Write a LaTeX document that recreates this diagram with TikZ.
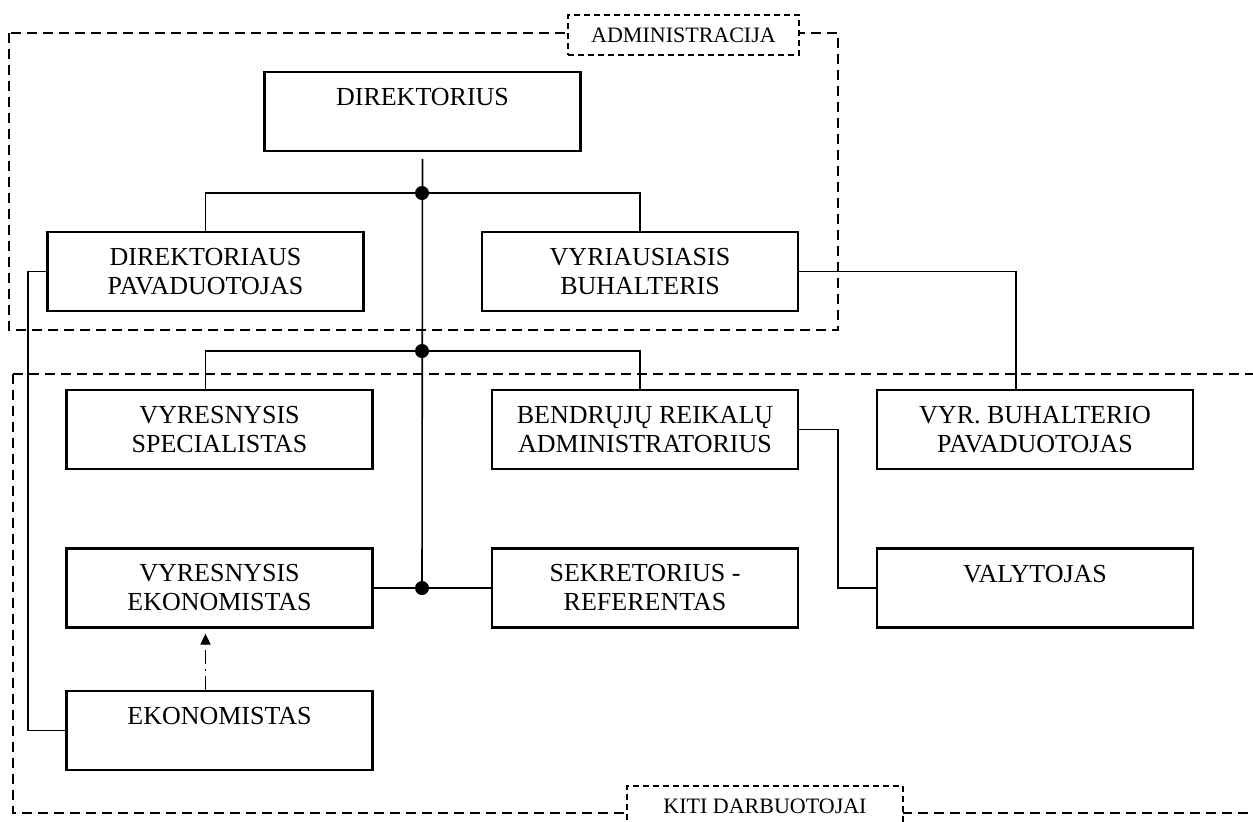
\documentclass[tikz,border=0pt]{standalone}
\usepackage{fontspec}
\setmainfont{Liberation Serif}
\usetikzlibrary{arrows.meta}

\begin{document}
\begin{tikzpicture}[
    x=0.5pt,
    y=-0.5pt,
    box/.style={
        draw,
        line width=1.1pt,
        minimum width=158pt,
        minimum height=39.5pt,
        inner sep=0pt,
        align=center,
        font=\fontsize{13}{14.5}\selectfont
    },
    narrow/.style={
        box,
        minimum width=153pt
    },
    frame/.style={
        line width=1pt,
        dash pattern=on 5pt off 3pt
    },
    tag/.style={
        draw,
        fill=white,
        line width=1pt,
        dash pattern=on 3pt off 2pt,
        inner sep=0pt,
        font=\fontsize{11}{13}\selectfont
    },
    edge/.style={
        line width=0.8pt
    },
    helper/.style={
        line width=0.8pt,
        dash pattern=on 7pt off 2.5pt on 1pt off 2.5pt,
        -{Triangle[length=5.5pt,width=5pt]}
    }
]
\useasboundingbox (0,0) rectangle (1253,821);

% Groups
\draw[frame] (9,33) rectangle (838,330);
\draw[frame] (13,374) rectangle (1275,813);
\node[tag, minimum width=115.5pt, minimum height=20pt] (admin) at (683.5,35) {ADMINISTRACIJA};
\node[tag, minimum width=138pt, minimum height=20pt] (kiti) at (765,806) {KITI DARBUOTOJAI};

% Nodes
\node[box] (dir) at (422.5,111.5) {DIREKTORIUS\\\mbox{}};

\node[box] (pav) at (205.5,271.5) {DIREKTORIAUS\\PAVADUOTOJAS};
\node[box] (buh) at (640,271.5) {VYRIAUSIASIS\\BUHALTERIS};

\node[narrow] (spec) at (219.5,429.5) {VYRESNYSIS\\SPECIALISTAS};
\node[narrow] (bend) at (645,429.5) {BENDRŲJŲ REIKALŲ\\ADMINISTRATORIUS};
\node[box] (bpav) at (1035,429.5) {VYR. BUHALTERIO\\PAVADUOTOJAS};

\node[narrow] (vek) at (219.5,588) {VYRESNYSIS\\EKONOMISTAS};
\node[narrow] (sekr) at (645,588) {SEKRETORIUS -\\REFERENTAS};
\node[box] (val) at (1035,588) {VALYTOJAS\\\mbox{}};

\node[narrow] (ekon) at (219.5,730.5) {EKONOMISTAS\\\mbox{}};

% Junctions
\coordinate (j1) at (422,193);
\coordinate (j2) at (422,351);
\coordinate (j3) at (422,588);
\coordinate (left) at (28,500);

% Edges
\draw[edge, shorten <=3.5pt] (dir.south) -- (j3);

\draw[edge] (pav.north) |- (j1) -| (buh.north);
\draw[edge] (pav |- spec.north) |- (j2) -| (buh |- bend.north);
\draw[edge] (vek.east) -- (sekr.west);

\draw[edge] (pav.west) -| (left) |- (ekon.west);
\draw[edge] (buh.east) -| ([xshift=-9.5pt]bpav.north);
\draw[edge] (bend.east) -- ++(19.5pt,0) |- (val.west);

\draw[helper, shorten >=2.5pt] (pav |- ekon.north) -- (pav |- vek.south);

% Dots
\foreach \j in {j1,j2,j3} {
    \fill (\j) circle (3.5pt);
    \draw[line width=1.3pt] (\j) -- ++(12pt,0);
}

\end{tikzpicture}
\end{document}
